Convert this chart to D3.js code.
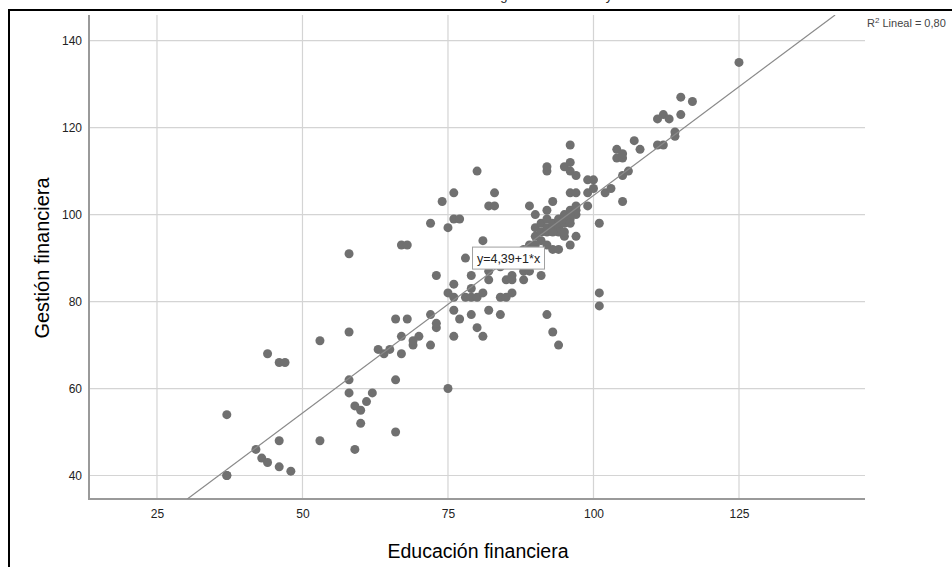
<!DOCTYPE html>
<html lang="es">
  <head>
    <meta charset="UTF-8" />
    <title>Gestión financiera vs Educación financiera</title>
    <style>
      body {
        margin: 0;
        background: #fff;
        font-family: Arial, "Liberation Sans", sans-serif;
      }
      svg {
        display: block;
      }
    </style>
  </head>
  <body>
    <div id="chart"></div>

    <script src="https://d3js.org/d3.v7.min.js"></script>
    <script>
      // Educación financiera (x) y Gestión financiera (y)
      const eduFin = [
        37, 37, 37, 42, 43, 44, 44, 46, 47, 46,
        46, 48, 53, 53, 58, 58, 58, 58, 59, 59,
        60, 60, 61, 62, 63, 64, 65, 66, 66, 66,
        67, 67, 67, 68, 68, 69, 69, 70, 72, 72,
        73, 73, 73, 72, 74, 75, 75, 75, 76, 76,
        76, 76, 76, 76, 77, 77, 78, 78, 79, 79,
        79, 79, 80, 80, 80, 81, 81, 81, 82, 82,
        82, 83, 83, 82, 84, 84, 84, 85, 85, 86,
        86, 86, 87, 88, 88, 89, 89, 89, 90, 90,
        90, 91, 91, 91, 91, 92, 92, 92, 92, 92,
        92, 92, 92, 93, 93, 93, 93, 93, 94, 94,
        94, 94, 94, 95, 95, 95, 95, 95, 96, 96,
        96, 96, 96, 96, 96, 97, 97, 97, 97, 97,
        97, 99, 99, 99, 100, 100, 101, 101, 101, 102,
        103, 104, 104, 105, 105, 105, 105, 106, 107, 108,
        111, 111, 112, 112, 113, 114, 114, 115, 115, 117,
        125, 94, 95, 96, 96, 93, 88, 90
      ];
      const gesFin = [
        54, 40, 40, 46, 44, 43, 68, 66, 66, 48,
        42, 41, 71, 48, 91, 73, 62, 59, 56, 46,
        55, 52, 57, 59, 69, 68, 69, 76, 62, 50,
        72, 68, 93, 93, 76, 70, 71, 72, 70, 77,
        74, 75, 86, 98, 103, 60, 82, 97, 81, 84,
        99, 105, 78, 72, 76, 99, 81, 90, 77, 83,
        86, 81, 81, 74, 110, 72, 82, 94, 85, 87,
        102, 102, 105, 78, 77, 81, 88, 85, 81, 86,
        85, 82, 90, 85, 87, 87, 102, 93, 100, 97,
        95, 86, 94, 96, 98, 77, 93, 96, 97, 99,
        101, 110, 111, 73, 92, 97, 98, 103, 70, 92,
        96, 97, 98, 95, 96, 98, 99, 111, 93, 99,
        101, 105, 110, 112, 116, 95, 100, 101, 102, 105,
        109, 102, 105, 108, 106, 108, 98, 82, 79, 105,
        106, 113, 115, 103, 109, 113, 114, 110, 117, 115,
        116, 122, 116, 123, 122, 118, 119, 123, 127, 126,
        135, 99, 100, 100, 98, 96, 92, 93
      ];

      const xTicks = [25, 50, 75, 100, 125];
      const yTicks = [40, 60, 80, 100, 120, 140];

      // recta de ajuste
      const intercept = 4.39;
      const slope = 1;
      const fitLabel = "y=4,39+1*x";
      const r2Text = "0,80";

      const width = 952,
        height = 567;
      const plotLeft = 89,
        plotRight = 865,
        plotTop = 15,
        plotBottom = 499;

      const svg = d3
        .select("#chart")
        .append("svg")
        .attr("width", width)
        .attr("height", height);

      svg
        .append("rect")
        .attr("width", width)
        .attr("height", height)
        .attr("fill", "#fff");

      // titulo cortado arriba (en el original solo se ven los trazos inferiores)
      svg
        .append("text")
        .attr("x", 428)
        .attr("y", 0)
        .style("font-size", "13px")
        .attr("fill", "#222")
        .text("Relación de gestión financiera y educación financiera");

      // borde negro exterior
      svg
        .append("rect")
        .attr("x", 9)
        .attr("y", 10)
        .attr("width", 1000)
        .attr("height", 1000)
        .attr("fill", "none")
        .attr("stroke", "#000")
        .attr("stroke-width", 2);

      const x = d3
        .scaleLinear()
        .domain([13.32, 146.65])
        .range([plotLeft, plotRight]);
      const y = d3
        .scaleLinear()
        .domain([34.6, 145.9])
        .range([plotBottom, plotTop]);

      // rejilla
      svg
        .append("g")
        .selectAll("line")
        .data(xTicks)
        .enter()
        .append("line")
        .attr("x1", (d) => x(d))
        .attr("x2", (d) => x(d))
        .attr("y1", plotTop)
        .attr("y2", plotBottom)
        .attr("stroke", "#d4d4d4")
        .attr("stroke-width", 1.2);

      svg
        .append("g")
        .selectAll("line")
        .data(yTicks)
        .enter()
        .append("line")
        .attr("x1", plotLeft)
        .attr("x2", plotRight)
        .attr("y1", (d) => y(d))
        .attr("y2", (d) => y(d))
        .attr("stroke", "#d4d4d4")
        .attr("stroke-width", 1.2);

      // ejes (solo etiquetas, sin marcas)
      const xAxis = svg
        .append("g")
        .attr("transform", `translate(0,${plotBottom})`)
        .call(d3.axisBottom(x).tickValues(xTicks).tickSize(0).tickPadding(10));
      const yAxis = svg
        .append("g")
        .attr("transform", `translate(${plotLeft},0)`)
        .call(d3.axisLeft(y).tickValues(yTicks).tickSize(0).tickPadding(7));

      [xAxis, yAxis].forEach((g) => {
        g.select(".domain").remove();
        g.selectAll("text")
          .style("font-family", "Arial, 'Liberation Sans', sans-serif")
          .style("font-size", "12px")
          .attr("fill", "#222");
      });

      svg
        .append("line")
        .attr("x1", plotLeft)
        .attr("x2", plotRight)
        .attr("y1", plotBottom)
        .attr("y2", plotBottom)
        .attr("stroke", "#9a9a9a")
        .attr("stroke-width", 2);
      svg
        .append("line")
        .attr("x1", plotLeft)
        .attr("x2", plotLeft)
        .attr("y1", plotTop)
        .attr("y2", plotBottom + 1)
        .attr("stroke", "#9a9a9a")
        .attr("stroke-width", 2);

      // puntos
      const points = eduFin.map((d, i) => ({ x: d, y: gesFin[i] }));
      svg
        .append("g")
        .selectAll("circle")
        .data(points)
        .enter()
        .append("circle")
        .attr("cx", (d) => x(d.x))
        .attr("cy", (d) => y(d.y))
        .attr("r", 4.5)
        .attr("fill", "#707070");

      // recta de regresion, recortada al area del grafico
      svg
        .append("clipPath")
        .attr("id", "plotClip")
        .append("rect")
        .attr("x", plotLeft)
        .attr("y", plotTop)
        .attr("width", plotRight - plotLeft)
        .attr("height", plotBottom - plotTop);

      const x0 = (y.domain()[0] - intercept) / slope;
      const x1 = (y.domain()[1] - intercept) / slope;
      svg
        .append("line")
        .attr("clip-path", "url(#plotClip)")
        .attr("x1", x(x0))
        .attr("y1", y(intercept + slope * x0))
        .attr("x2", x(x1))
        .attr("y2", y(intercept + slope * x1))
        .attr("stroke", "#8a8a8a")
        .attr("stroke-width", 1.2);

      // etiqueta de la ecuacion
      const eqX = x(85.4),
        eqY = y(90);
      svg
        .append("rect")
        .attr("x", eqX - 36)
        .attr("y", eqY - 11)
        .attr("width", 72)
        .attr("height", 22)
        .attr("fill", "#fff")
        .attr("stroke", "#a0a0a0");
      svg
        .append("text")
        .attr("x", eqX)
        .attr("y", eqY + 5)
        .attr("text-anchor", "middle")
        .style("font-size", "12.5px")
        .attr("fill", "#222")
        .text(fitLabel);

      // R2
      const r2 = svg
        .append("text")
        .attr("x", 867)
        .attr("y", 27)
        .style("font-size", "11px")
        .attr("fill", "#444");
      r2.append("tspan").text("R");
      r2.append("tspan").attr("dy", -4).style("font-size", "8px").text("2");
      r2.append("tspan").attr("dy", 4).text(" Lineal = " + r2Text);

      // titulos de ejes
      svg
        .append("text")
        .attr("x", 478)
        .attr("y", 558)
        .attr("text-anchor", "middle")
        .style("font-size", "19.5px")
        .attr("fill", "#000")
        .text("Educación financiera");

      svg
        .append("text")
        .attr("transform", `translate(49,${258}) rotate(-90)`)
        .attr("text-anchor", "middle")
        .style("font-size", "20px")
        .attr("fill", "#000")
        .text("Gestión financiera");
    </script>
  </body>
</html>
